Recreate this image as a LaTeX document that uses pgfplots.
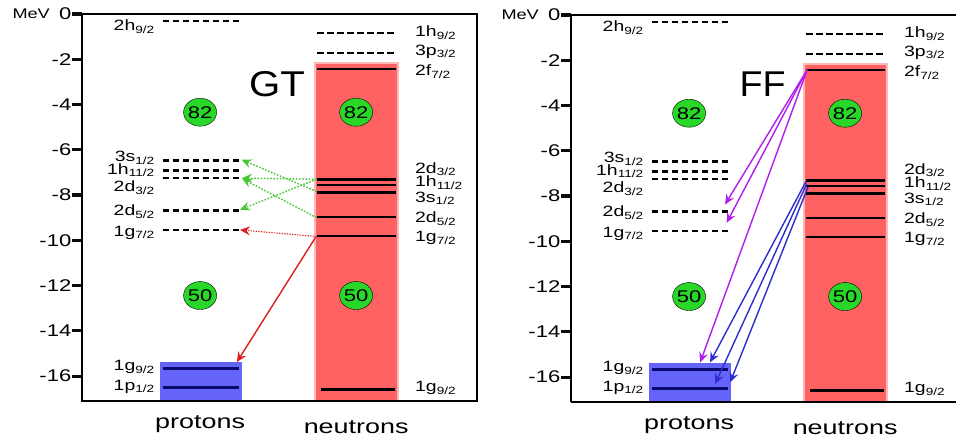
\documentclass[border=0pt]{standalone}
\usepackage{graphicx}
\usepackage{pgfplots}
\pgfplotsset{compat=1.18}
\usepackage{fontspec}
\setmainfont{Liberation Sans}
\usetikzlibrary{arrows.meta}

\definecolor{nred}{RGB}{255,98,98}
\definecolor{pblue}{RGB}{100,100,250}
\definecolor{navy}{RGB}{10,10,110}
\definecolor{cgreen}{RGB}{40,215,40}
\definecolor{agreen}{RGB}{70,200,50}
\definecolor{ared}{RGB}{220,30,30}
\definecolor{apurple}{RGB}{175,30,235}
\definecolor{ablue}{RGB}{45,45,205}
\definecolor{tickc}{RGB}{12,12,12}

\newcommand\sx[1]{\scalebox{1.3}[1]{#1}}
\newcommand\lab[2]{\sx{#1\textsubscript{#2}}}

\pgfplotsset{
  levelpanel/.style={
    scale only axis, width=395bp, height=387bp,
    xmin=0, xmax=10, ymin=-17.1, ymax=0,
    axis on top, clip=false,
    axis line style={line width=1.8bp},
    xtick=\empty,
    ytick={0,-2,-4,-6,-8,-10,-12,-14,-16},
    yticklabels={\sx{0},\sx{-2},\sx{-4},\sx{-6},\sx{-8},\sx{-10},\sx{-12},\sx{-14},\sx{-16}},
    ytick pos=left,
    tick align=outside,
    major tick length=10bp,
    every tick/.style={draw=tickc, line width=3.2bp},
    yticklabel style={font=\fontsize{17}{17}\selectfont, anchor=east, inner sep=0.5bp},
  },
  dlev/.style={line width=2.3bp, dash pattern=on 6.5bp off 3.5bp, black},
  slev/.style={line width=2.6bp, black},
  plev/.style={line width=2.6bp, navy},
  tk/.style={line width=3.2bp, tickc},
  arr/.style={line width=1.4bp, -{Stealth[length=10bp,width=9bp,inset=3.5bp]}},
}
\tikzset{
  lbl/.style={font=\fontsize{15}{15}\selectfont, inner sep=0pt},
  lblL/.style={lbl, anchor=east},
  lblR/.style={lbl, anchor=west},
}

\newcommand\commonlevels{%
  % boxes
  \addplot[fill=pblue, draw=none] coordinates {(1.97,-17.1) (1.97,-15.39) (4.06,-15.39) (4.06,-17.1)} -- cycle;
  \addplot[fill=nred, draw=nred!45, line width=1.5bp] coordinates {(5.9,-17.1) (5.9,-2.16) (8.0,-2.16) (8.0,-17.1)} -- cycle;
  % tick marks on the y axis (outside, 10bp long)
  \addplot[tk] coordinates {(0,0) (-0.253,0)};
  \addplot[tk] coordinates {(0,-2) (-0.253,-2)};
  \addplot[tk] coordinates {(0,-4) (-0.253,-4)};
  \addplot[tk] coordinates {(0,-6) (-0.253,-6)};
  \addplot[tk] coordinates {(0,-8) (-0.253,-8)};
  \addplot[tk] coordinates {(0,-10) (-0.253,-10)};
  \addplot[tk] coordinates {(0,-12) (-0.253,-12)};
  \addplot[tk] coordinates {(0,-14) (-0.253,-14)};
  \addplot[tk] coordinates {(0,-16) (-0.253,-16)};
  % proton dashed levels
  \addplot[dlev] coordinates {(2.04,-0.32) (3.98,-0.32)};
  \addplot[dlev] coordinates {(2.04,-6.47) (3.98,-6.47)};
  \addplot[dlev] coordinates {(2.04,-6.92) (3.98,-6.92)};
  \addplot[dlev] coordinates {(2.04,-7.25) (3.98,-7.25)};
  \addplot[dlev] coordinates {(2.04,-8.68) (3.98,-8.68)};
  \addplot[dlev] coordinates {(2.04,-9.55) (3.98,-9.55)};
  % proton solid levels
  \addplot[plev] coordinates {(2.04,-15.66) (3.97,-15.66)};
  \addplot[plev] coordinates {(2.04,-16.51) (3.97,-16.51)};
  % neutron dashed levels
  \addplot[dlev] coordinates {(5.96,-0.83) (7.93,-0.83)};
  \addplot[dlev] coordinates {(5.96,-1.72) (7.93,-1.72)};
  % neutron solid levels
  \addplot[slev] coordinates {(5.96,-2.43) (7.96,-2.43)};
  \addplot[slev] coordinates {(5.96,-7.32) (7.96,-7.32)};
  \addplot[slev] coordinates {(5.96,-7.56) (7.96,-7.56)};
  \addplot[slev] coordinates {(5.96,-7.88) (7.96,-7.88)};
  \addplot[slev] coordinates {(5.96,-8.97) (7.96,-8.97)};
  \addplot[slev] coordinates {(5.96,-9.81) (7.96,-9.81)};
  \addplot[slev] coordinates {(6.05,-16.58) (7.93,-16.58)};
  % magic numbers
  \addplot[only marks, mark=*, mark size=14bp,
    mark options={fill=cgreen, draw=none, xscale=1.18},
    nodes near coords={\sx{\pgfplotspointmeta}}, point meta=explicit symbolic,
    every node near coord/.style={anchor=center, font=\fontsize{17}{17}\selectfont, text=black}]
    coordinates {(2.99,-4.34) [82] (6.94,-4.34) [82] (2.99,-12.44) [50] (6.94,-12.44) [50]};
  % labels protons
  \node[lblL] at (axis cs:1.85,-0.55) {\lab{2h}{9/2}};
  \node[lblL] at (axis cs:1.85,-6.36) {\lab{3s}{1/2}};
  \node[lblL] at (axis cs:1.85,-6.9) {\lab{1h}{11/2}};
  \node[lblL] at (axis cs:1.85,-7.68) {\lab{2d}{3/2}};
  \node[lblL] at (axis cs:1.85,-8.74) {\lab{2d}{5/2}};
  \node[lblL] at (axis cs:1.85,-9.66) {\lab{1g}{7/2}};
  \node[lblL] at (axis cs:1.85,-15.6) {\lab{1g}{9/2}};
  \node[lblL] at (axis cs:1.85,-16.47) {\lab{1p}{1/2}};
  % labels neutrons
  \node[lblR] at (axis cs:8.43,-0.82) {\lab{1h}{9/2}};
  \node[lblR] at (axis cs:8.43,-1.66) {\lab{3p}{3/2}};
  \node[lblR] at (axis cs:8.43,-2.54) {\lab{2f}{7/2}};
  \node[lblR] at (axis cs:8.43,-6.86) {\lab{2d}{3/2}};
  \node[lblR] at (axis cs:8.43,-7.46) {\lab{1h}{11/2}};
  \node[lblR] at (axis cs:8.43,-8.14) {\lab{3s}{1/2}};
  \node[lblR] at (axis cs:8.43,-9.05) {\lab{2d}{5/2}};
  \node[lblR] at (axis cs:8.43,-9.89) {\lab{1g}{7/2}};
  \node[lblR] at (axis cs:8.43,-16.53) {\lab{1g}{9/2}};
  % bottom labels
  \node[font=\fontsize{20}{20}\selectfont] at (axis cs:2.99,-18.1) {\scalebox{1.35}[1]{protons}};
  \node[font=\fontsize{20}{20}\selectfont] at (axis cs:6.94,-18.25) {\scalebox{1.35}[1]{neutrons}};
  % MeV
  \node[font=\fontsize{14}{14}\selectfont, anchor=east, inner sep=0pt] at ([xshift=-32bp]rel axis cs:0,1) {\sx{MeV}};
}

\begin{document}
\begin{tikzpicture}
\useasboundingbox (0,0) rectangle (956bp,-441bp);
% ---------------- GT panel ----------------
\begin{axis}[levelpanel, at={(82bp,-14bp)}, anchor=north west]
  \commonlevels
  \addplot[arr, agreen, dash pattern=on 1.6bp off 1.6bp] coordinates {(5.94,-7.84) (4.04,-6.44)};
  \addplot[arr, agreen, dash pattern=on 1.6bp off 1.6bp] coordinates {(5.94,-9.0) (4.05,-7.27)};
  \addplot[arr, agreen, dash pattern=on 1.6bp off 1.6bp] coordinates {(5.94,-7.30) (4.05,-7.25)};
  \addplot[arr, agreen, dash pattern=on 1.6bp off 1.6bp] coordinates {(5.94,-7.30) (4.0,-8.65)};
  \addplot[arr, ared, dash pattern=on 1.3bp off 1.3bp, line width=1.1bp] coordinates {(5.94,-9.83) (4.0,-9.54)};
  \addplot[arr, ared] coordinates {(5.92,-9.85) (3.92,-15.38)};
  \node[font=\fontsize{36}{36}\selectfont] at (axis cs:4.94,-3.08) {\scalebox{1.12}[1]{GT}};
\end{axis}
% ---------------- FF panel ----------------
\begin{axis}[levelpanel, at={(571bp,-15bp)}, anchor=north west,
  width=385bp, xmax=9.747, axis x line*=box, axis y line*=left]
  \commonlevels
  \addplot[arr, apurple] coordinates {(5.98,-2.42) (3.9,-8.37)};
  \addplot[arr, apurple] coordinates {(5.98,-2.42) (3.94,-9.18)};
  \addplot[arr, apurple] coordinates {(5.98,-2.42) (3.27,-15.35)};
  \addplot[arr, ablue] coordinates {(5.95,-7.35) (3.52,-15.35)};
  \addplot[arr, ablue] coordinates {(5.97,-7.45) (3.65,-16.3)};
  \addplot[arr, ablue] coordinates {(6.0,-7.6) (4.03,-16.23)};
  \node[font=\fontsize{36}{36}\selectfont] at (axis cs:4.85,-3.05) {\scalebox{1.05}[1]{FF}};
\end{axis}
\end{tikzpicture}
\end{document}
